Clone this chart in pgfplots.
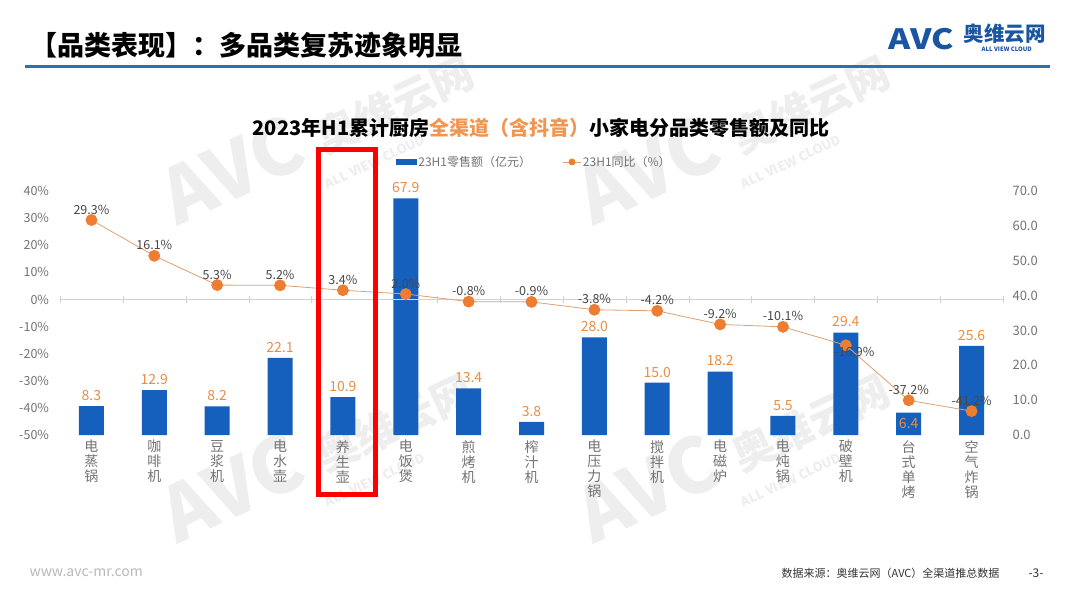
\documentclass[border=0pt]{standalone}
\usepackage{fontspec}
\setmainfont{Noto Sans CJK SC}
\usepackage{pgfplots}
\pgfplotsset{compat=1.18}
\definecolor{barblue}{RGB}{21,96,189}
\definecolor{lineor}{RGB}{237,125,49}
\definecolor{linebr}{RGB}{222,160,115}
\definecolor{lblor}{RGB}{232,142,72}
\definecolor{tickgray}{RGB}{115,115,115}
\definecolor{hdrblue}{RGB}{46,112,172}
\definecolor{logoblue}{RGB}{25,85,160}
\definecolor{titleor}{RGB}{240,150,80}
\definecolor{wmgray}{RGB}{238,238,238}

\begin{document}
\begin{tikzpicture}[x=1pt,y=1pt]
\path[use as bounding box, fill=white] (0,0) rectangle (1078,606);
% watermarks
\foreach \dx in {0,416} {
  \foreach \dy in {0,-318} {
    \begin{scope}[shift={(\dx,\dy)}]
      \node[rotate=25, text=wmgray, font=\bfseries\fontsize{76}{76}\selectfont] at (232,436) {AVC};
      \node[rotate=25, text=wmgray, font=\bfseries\fontsize{42}{42}\selectfont] at (395,501) {奥维云网};
      \node[rotate=25, text=wmgray, font=\bfseries\fontsize{13}{13}\selectfont] at (375,444) {ALL VIEW CLOUD};
    \end{scope}
  }
}
% header
\node[anchor=west, font=\bfseries\fontsize{27}{27}\selectfont] at (27,561) {【品类表现】：多品类复苏迹象明显};
\draw[hdrblue, line width=3pt] (25,539) -- (1050,539);
\node[anchor=west, text=logoblue, font=\bfseries\fontsize{28}{28}\selectfont] at (885,567) {\scalebox{1.2}[1]{AVC}};
\node[anchor=west, text=logoblue, font=\bfseries\fontsize{20.5}{20.5}\selectfont] at (960,572) {奥维云网};
\node[anchor=west, text=logoblue, font=\bfseries\fontsize{6}{6}\selectfont] at (978,557) {ALL VIEW CLOUD};
% chart title
\node[font=\bfseries\fontsize{20}{21}\selectfont] at (541,478) {2023年H1累计厨房\textcolor{titleor}{全渠道（含抖音）}小家电分品类零售额及同比};

% bars: retail sales (right axis)
\begin{axis}[at={(60pt,171pt)}, anchor=south west, scale only axis,
  width=943pt, height=244pt,
  xmin=-0.5, xmax=14.5, ymin=0, ymax=70,
  axis x line*=bottom, axis y line*=right, axis line style={draw=none},
  major tick length=0pt,
  xtick={0,...,14},
  xticklabels={{电\\蒸\\锅},{咖\\啡\\机},{豆\\浆\\机},{电\\水\\壶},{养\\生\\壶},{电\\饭\\煲},{煎\\烤\\机},{榨\\汁\\机},{电\\压\\力\\锅},{搅\\拌\\机},{电\\磁\\炉},{电\\炖\\锅},{破\\壁\\机},{台\\式\\单\\烤},{空\\气\\炸\\锅}},
  xticklabel style={align=center, text=tickgray, font=\fontsize{14}{15}\selectfont, anchor=north, inner sep=0pt, yshift=-5pt},
  ytick={0,10,...,70},
  yticklabel style={text=tickgray, font=\fontsize{13}{13}\selectfont, xshift=6pt},
  /pgf/number format/.cd, fixed, fixed zerofill, precision=1, assume math mode=true, /pgfplots/.cd,
  ybar, bar width=25pt,
]
\addplot[fill=barblue, draw=none,
  nodes near coords,
  nodes near coords style={text=lblor, font=\fontsize{14}{14}\selectfont, yshift=2pt},
  coordinate style/.condition={x==13}{anchor=north, yshift=-4pt},
] coordinates {
  (0,8.3) (1,12.9) (2,8.2) (3,22.1) (4,10.9) (5,67.9) (6,13.4) (7,3.8)
  (8,28.0) (9,15.0) (10,18.2) (11,5.5) (12,29.4) (13,6.4) (14,25.6)
};
\end{axis}

% line: YoY growth (left axis)
\begin{axis}[at={(60pt,171pt)}, anchor=south west, scale only axis,
  width=943pt, height=244pt,
  xmin=-0.5, xmax=14.5, ymin=-50, ymax=40,
  axis x line=middle, axis y line=left,
  x axis line style={draw=gray!35, -},
  y axis line style={draw=none},
  hide obscured x ticks=false, hide obscured y ticks=false,
  xtick={-0.5,0.5,...,14.5}, xticklabels={},
  x tick style={draw=gray!35}, tick align=center, major tick length=7pt,
  ytick={-50,-40,...,40}, y tick style={draw=none},
  yticklabel={\pgfmathprintnumber{\tick}\%},
  yticklabel style={text=tickgray, font=\fontsize{12.5}{13}\selectfont, xshift=-4pt},
  /pgf/number format/assume math mode=true,
  legend columns=2,
  legend style={at={(0.503,1.119)}, anchor=center, draw=none, fill=none,
    font=\fontsize{12}{12}\selectfont, text=tickgray,
    /tikz/every even column/.append style={column sep=30pt}},
]
\addlegendimage{legend image code/.code={\fill[barblue] (0pt,-2.5pt) rectangle (20pt,2.5pt);}}
\addlegendentry{23H1零售额（亿元）}
\addplot[linebr, line width=0.8pt, mark=*, mark size=5.5pt, mark options={draw=lineor, fill=lineor},
  legend image post style={mark size=3pt},
  nodes near coords={\pgfmathprintnumber[fixed,fixed zerofill,precision=1,assume math mode=true]{\pgfplotspointmeta}\%},
  visualization depends on={value \thisrow{a}\as\labanchor},
  nodes near coords style={text=black!72, font=\fontsize{12.5}{13}\selectfont, yshift=2pt},
  every node near coord/.append style={anchor=\labanchor},
] table[x=x, y=y] {
x y a
0 29.3 270
1 16.1 270
2 5.3 270
3 5.2 270
4 3.4 270
5 2.0 270
6 -0.8 270
7 -0.9 270
8 -3.8 270
9 -4.2 270
10 -9.2 270
11 -10.1 270
12 -16.9 135
13 -37.2 270
14 -41.2 270
};
\addlegendentry{23H1同比（\%）}
\end{axis}

% highlight box
\draw[red, line width=5pt] (318.5,456.5) rectangle (375.5,111.5);

% footer
\node[anchor=west, text=gray!55, font=\fontsize{14}{14}\selectfont] at (26,33) {www.avc-mr.com};
\node[anchor=east, text=black!80, font=\fontsize{11}{11}\selectfont] at (1003,33) {数据来源：奥维云网（AVC）全渠道推总数据};
\node[anchor=west, text=black!80, font=\fontsize{12}{12}\selectfont] at (1025,33) {-3-};
\end{tikzpicture}
\end{document}
